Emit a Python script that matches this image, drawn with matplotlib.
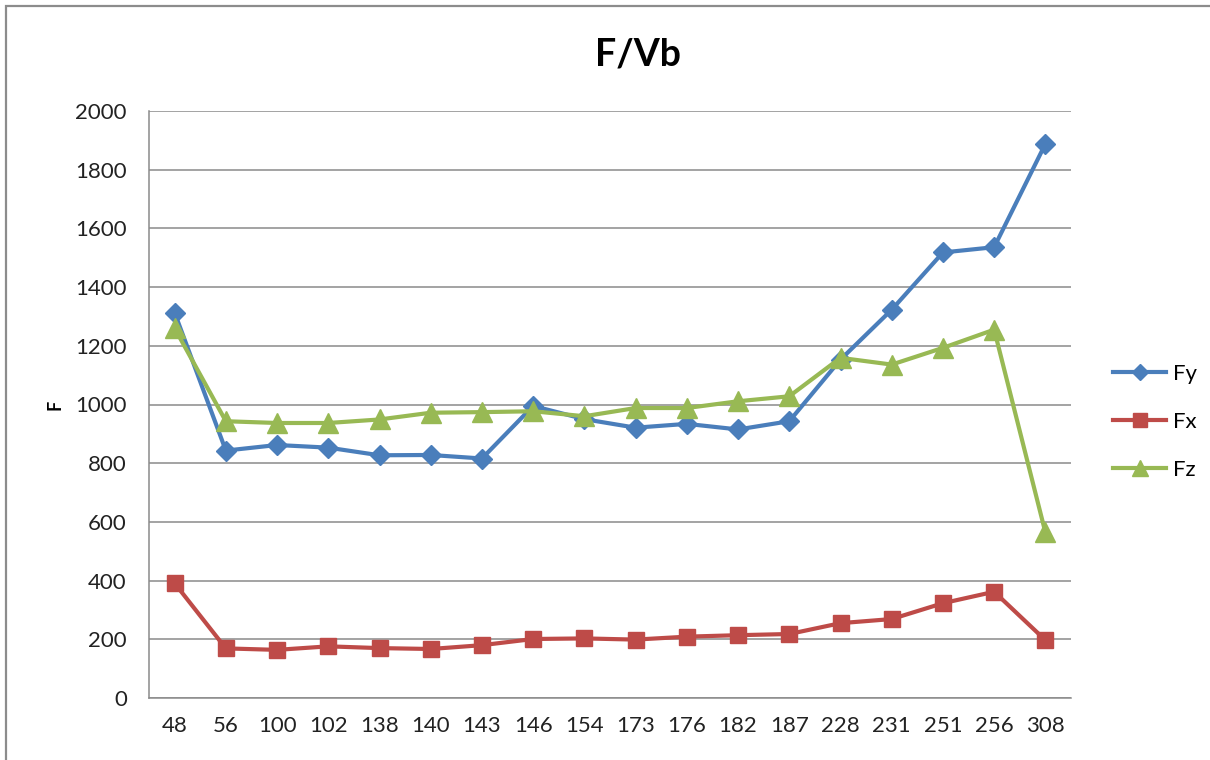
import matplotlib
matplotlib.use("Agg")
import matplotlib.pyplot as plt
from matplotlib.patches import Rectangle

# Category labels along the x axis
categories = ["48", "56", "100", "102", "138", "140", "143", "146", "154",
              "173", "176", "182", "187", "228", "231", "251", "256", "308"]

# Force components
fy = [1313, 843, 862, 853, 827, 828, 816, 995, 950, 921, 934, 915, 943,
      1153, 1323, 1518, 1536, 1888]
fx = [391, 169, 164, 176, 170, 167, 180, 201, 203, 199, 209, 214, 218,
      255, 269, 323, 362, 197]
fz = [1260, 943, 937, 937, 949, 972, 974, 977, 960, 988, 988, 1011, 1028,
      1159, 1136, 1193, 1255, 564]

y_ticks = [0, 200, 400, 600, 800, 1000, 1200, 1400, 1600, 1800, 2000]

plt.rcParams["font.family"] = ["Lato", "DejaVu Sans"]

fig = plt.figure(figsize=(12.1, 7.6), dpi=100)
fig.patch.set_facecolor("white")
ax = fig.add_axes([149 / 1210, 62 / 760, 922 / 1210, 587 / 760])

x = list(range(len(categories)))
ax.plot(x, fy, color="#4a7ebb", lw=3, marker="D", markersize=10,
        label="Fy", zorder=3)
ax.plot(x, fx, color="#be4b48", lw=3, marker="s", markersize=12,
        label="Fx", zorder=3)
ax.plot(x, fz, color="#98b954", lw=3, marker="^", markersize=14,
        label="Fz", zorder=3)

ax.set_xlim(-0.5, len(categories) - 0.5)
ax.set_ylim(0, 2000)
ax.set_yticks(y_ticks)
ax.set_xticks(x)
ax.set_xticklabels(categories)
ax.tick_params(axis="both", length=0, labelsize=16, colors="#222222")
ax.tick_params(axis="y", pad=16)
ax.tick_params(axis="x", pad=13)

ax.grid(axis="y", color="#8a8a8a", lw=1.1)
ax.set_axisbelow(True)
for side in ("top", "right"):
    ax.spines[side].set_visible(False)
for side in ("left", "bottom"):
    ax.spines[side].set_color("#8a8a8a")
    ax.spines[side].set_linewidth(1.1)

# Axis titles
fig.text(55 / 1210, 1 - 405 / 760, "F", rotation=90, ha="center",
         va="center", fontsize=13, fontweight="bold")
fig.text(638 / 1210, 1 - 55 / 760, "F/Vb", ha="center", va="center",
         fontsize=27, fontweight="bold")

fig.legend(loc="center left", bbox_to_anchor=(1093 / 1210, 1 - 422 / 760),
           frameon=False, fontsize=16, handlelength=2.4, handletextpad=0.3,
           labelspacing=1.25, markerscale=0.8)

# Outer chart frame
fig.add_artist(Rectangle((6 / 1210, -0.1), 2.0, 754 / 760 + 0.1,
                         transform=fig.transFigure, fill=False,
                         edgecolor="#8c8c8c", lw=1.6))

fig.savefig("out.png", dpi=100, facecolor="white")
